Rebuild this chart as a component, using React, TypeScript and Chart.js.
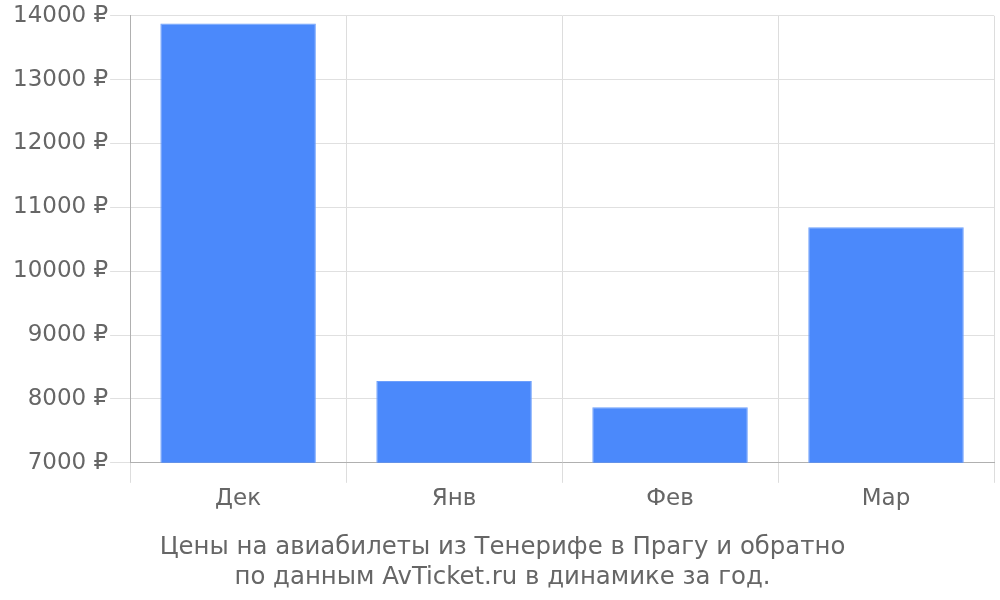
import React, { useEffect, useRef } from "react";
import { Chart, registerables } from "chart.js";

Chart.register(...registerables);

const categories = ["Дек", "Янв", "Фев", "Мар"];
const prices = [13880, 8280, 7870, 10690];
const titleLines = [
  "Цены на авиабилеты из Тенерифе в Прагу и обратно",
  "по данным AvTicket.ru в динамике за год.",
];
const yMin = 7000;
const yMax = 14000;
const yStep = 1000;

export default function App() {
  const ref = useRef<HTMLCanvasElement | null>(null);
  useEffect(() => {
    document.body.style.margin = "0";
    const ctx = ref.current!;
    const chart = new Chart(ctx, {
      type: "bar",
      data: {
        labels: categories,
        datasets: [
          {
            data: prices,
            backgroundColor: "#4b89fb",
            borderColor: "#6d9ffc",
            borderWidth: 1,
          },
        ],
      },
      options: {
        animation: false,
        responsive: false,
        layout: { padding: { top: 2, right: 6, left: 11, bottom: 8 } },
        plugins: {
          legend: { display: false },
          tooltip: { enabled: false },
          title: {
            display: true,
            position: "bottom",
            text: titleLines,
            color: "#666",
            font: { family: "DejaVu Sans", size: 24.4, weight: "normal" },
            padding: { top: 19, bottom: 0 },
            lineHeight: 1.19,
          },
        },
        scales: {
          x: {
            grid: { color: "#dddddd", tickLength: 20, offset: true },
            border: { color: "#b0b0b0" },
            ticks: {
              color: "#666",
              font: { family: "DejaVu Sans", size: 23 },
              padding: 2,
            },
          },
          y: {
            min: yMin,
            max: yMax,
            grid: { color: "#e0e0e0", tickLength: 20 },
            border: { color: "#b0b0b0" },
            ticks: {
              stepSize: yStep,
              color: "#666",
              font: { family: "DejaVu Sans", size: 23 },
              padding: 2,
              callback: (v: any) => v + " ₽",
            },
          },
        },
      },
    });
    return () => chart.destroy();
  }, []);
  return <canvas ref={ref} width={1000} height={600} />;
}
